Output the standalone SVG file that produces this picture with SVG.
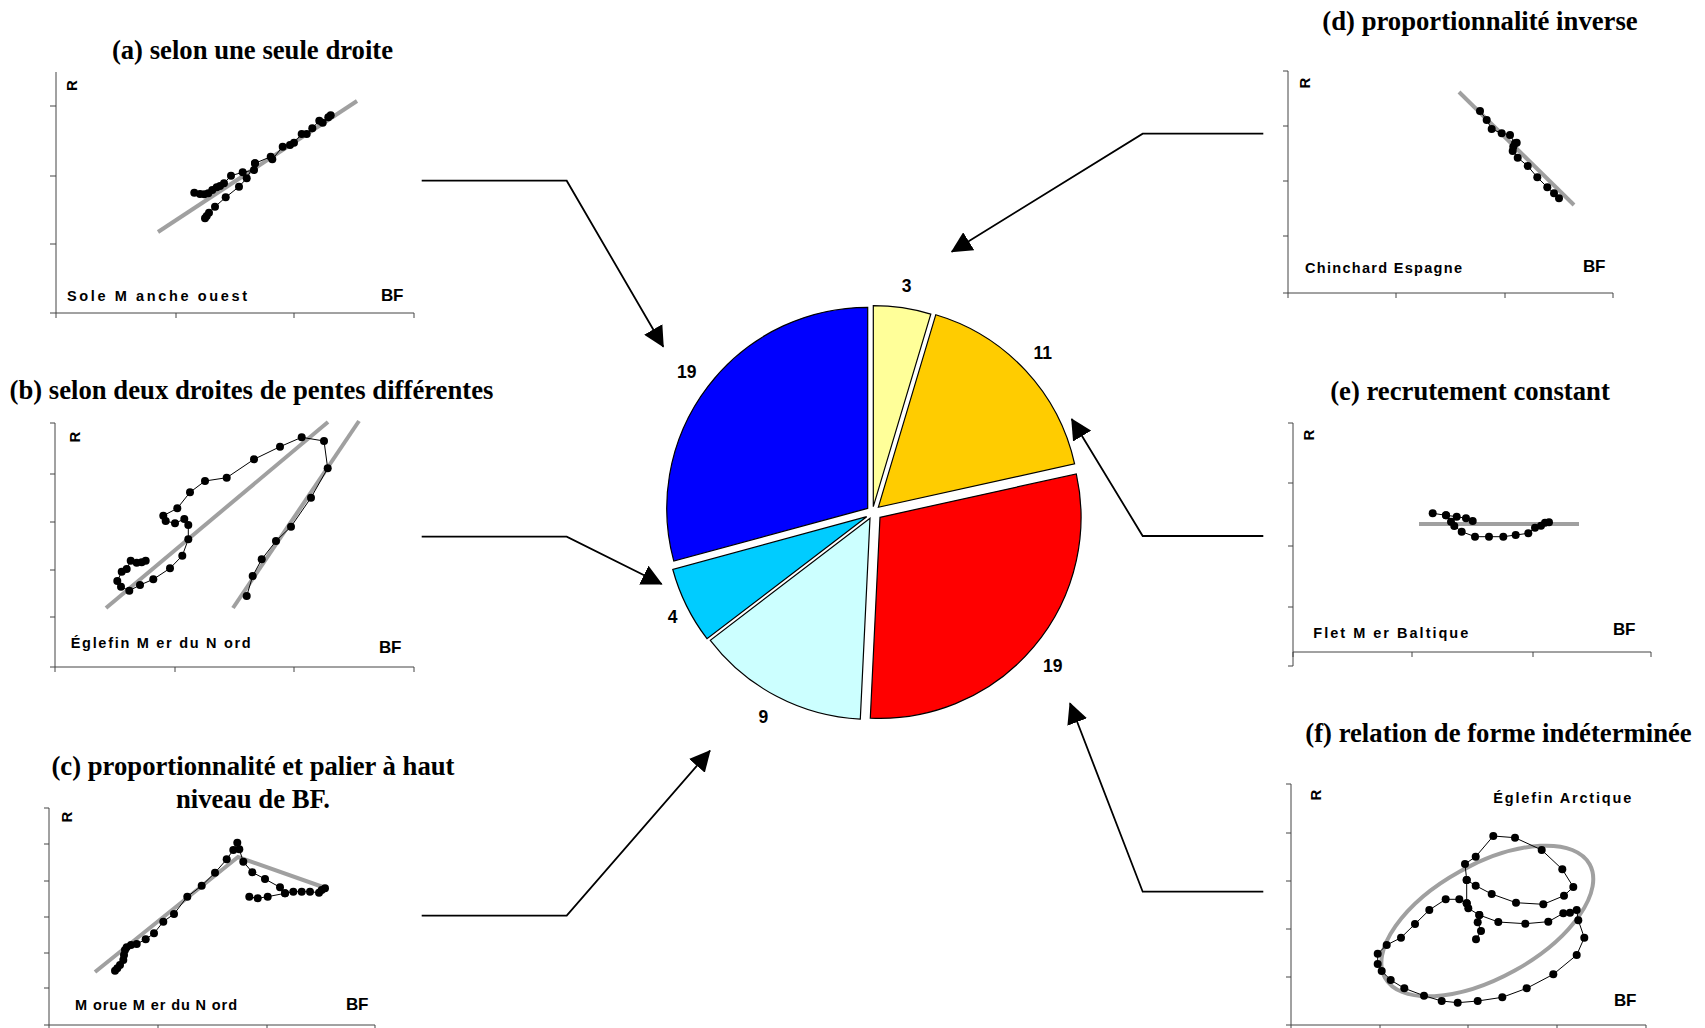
<svg xmlns="http://www.w3.org/2000/svg" width="1705" height="1028" viewBox="0 0 1705 1028">
<style>
.title{font-family:"Liberation Serif","Times New Roman",serif;font-weight:bold;font-size:26.7px;fill:#000;text-anchor:middle}
.ax{fill:none;stroke:#444;stroke-width:1}
.fit{fill:none;stroke:#a0a0a0;stroke-width:4}
.ser{fill:none;stroke:#000;stroke-width:1;stroke-linejoin:round;marker-start:url(#dot);marker-mid:url(#dot);marker-end:url(#dot)}
.lab{font-family:"Liberation Sans",Arial,sans-serif;font-weight:bold;fill:#000}
.r{font-size:15px;text-anchor:middle}
.bf{font-size:17px;letter-spacing:-0.4px}
.sp{font-size:14.5px}
.num{font-family:"Liberation Sans",Arial,sans-serif;font-weight:bold;font-size:17.5px;fill:#000;text-anchor:middle}
.slice{stroke:#000;stroke-width:1.2}
.con{fill:none;stroke:#000;stroke-width:1.8;marker-end:url(#arr)}
</style>
<defs>
<marker id="dot" markerUnits="userSpaceOnUse" markerWidth="10" markerHeight="10" viewBox="-5 -5 10 10" refX="0" refY="0" orient="0"><circle r="4" fill="#000"/></marker>
<marker id="arr" markerUnits="userSpaceOnUse" markerWidth="21" markerHeight="21" viewBox="0 0 21 21" refX="20" refY="10.5" orient="auto"><path d="M0,0 L21,10.5 L0,21 Z" fill="#000"/></marker>
</defs>
<rect width="1705" height="1028" fill="#fff"/>

<!-- Panel (a) -->
<g id="panel-a">
<text class="title" x="252.5" y="59">(a) selon une seule droite</text>
<path class="ax" d="M56,72 V313 H414 M50,106 H56 M50,176 H56 M50,244 H56 M50,313 H56 M56,313 V318 M176,313 V318 M294,313 V318 M414,313 V318"/>
<line class="fit" x1="158" y1="232" x2="357" y2="101"/>
<polyline class="ser" points="194.3,192.7 200,194 204.3,194.3 208.3,193.3 212.3,190 216.7,187.3 220,186 224,183.3 231,175.7 242.7,172.3 254,170 255,163.3 270.7,156.7 272.3,159.3 282.7,146.7 290,145 294,142.7 301.7,134 306.7,134 312.3,128.3 319.3,120.7 322.7,122.7 328.3,117.3 330.7,115.3"/>
<polyline class="ser" points="205,218.3 206.7,216 209,212.7 215,206.7 225.7,197.3 239,186.7 246.7,178.3 255,163.3"/>
<text class="lab r" transform="translate(76.5,85.7) rotate(-90)">R</text>
<text class="lab bf" x="381" y="300.7">BF</text>
<text class="lab sp" x="67" y="300.7" textLength="180" lengthAdjust="spacing">Sole M anche ouest</text>
</g>

<!-- Panel (b) -->
<g id="panel-b">
<text class="title" x="251.5" y="399">(b) selon deux droites de pentes différentes</text>
<path class="ax" d="M55,423 V667 H414 M50,423 H55 M50,474 H55 M50,522 H55 M50,570 H55 M50,617 H55 M50,667 H55 M55,667 V672 M175,667 V672 M294,667 V672 M414,667 V672"/>
<line class="fit" x1="106" y1="608" x2="328" y2="422"/>
<line class="fit" x1="233" y1="608" x2="359" y2="421"/>
<polyline class="ser" points="145.7,560.7 141.7,562.3 136.7,562.7 130.7,560.7 126.7,569 121.7,571.7 117.3,581 121,586.7 129.3,590.7 140,585 153.3,579.3 170,568.3 182.3,555.7 188.3,539.3 188.3,525 184.3,519 175,523.3 165.7,521 163.3,515.7 177.3,508.3 190,492.3 205,481 226.7,477.7 254,459.3 280,446.7 301.7,437.3 324,441 327.7,468.3 311,497.7 291,526.7 276,541 261.7,559.3 252.7,576 246.7,596"/>
<text class="lab r" transform="translate(79.5,437) rotate(-90)">R</text>
<text class="lab bf" x="379" y="652.7">BF</text>
<text class="lab sp" x="70.7" y="648.3" textLength="180" lengthAdjust="spacing">Églefin M er du N ord</text>
</g>

<!-- Panel (c) -->
<g id="panel-c">
<text class="title" x="253" y="775">(c) proportionnalité et palier à haut</text>
<text class="title" x="253" y="808">niveau de BF.</text>
<path class="ax" d="M49,808 V1025 H375 M44,808 H49 M44,844 H49 M44,881 H49 M44,917 H49 M44,953 H49 M44,988 H49 M44,1025 H49 M49,1025 V1030 M158,1025 V1030 M267,1025 V1030 M375,1025 V1030"/>
<polyline class="fit" points="95,972 238,857 323,887"/>
<polyline class="ser" points="115,970.7 117.3,968.3 120,965 123.3,960 124,955 125,950 126.7,947.3 131,945 136.7,944 145.7,939.3 154,933.3 163.3,921.7 174,914 187.3,896.7 201.7,885.7 215,872.7 226.7,859.3 233.3,850 237.3,842.7 239.3,849.3 243.3,861.7 252.3,872.3 265,879 280,887.3 285,893.3 293.3,891.7 301.7,891.7 310,891.7 319,892.7 321.7,890 325,888.3"/>
<polyline class="ser" points="249.3,896.7 257.7,898.3 267.7,896.7 285,893.3"/>
<text class="lab r" transform="translate(72,817) rotate(-90)">R</text>
<text class="lab bf" x="346" y="1010">BF</text>
<text class="lab sp" x="75" y="1010" textLength="162" lengthAdjust="spacing">M orue M er du N ord</text>
</g>

<!-- Panel (d) -->
<g id="panel-d">
<text class="title" x="1480" y="30">(d) proportionnalité inverse</text>
<path class="ax" d="M1288,71 V293 H1613 M1283,71 H1288 M1283,126 H1288 M1283,181 H1288 M1283,236 H1288 M1283,293 H1288 M1288,293 V298 M1396,293 V298 M1505,293 V298 M1613,293 V298"/>
<line class="fit" x1="1459" y1="92" x2="1574" y2="205"/>
<polyline class="ser" points="1480,111 1486.7,120 1491.7,129 1501.7,133.3 1510,135 1515,143.3 1516.7,142.7 1513.3,146.7 1512.7,151 1517.7,157.7 1527.7,166 1537.3,177.3 1547.3,187.3 1554,193.3 1559,198.3"/>
<text class="lab r" transform="translate(1309.5,83) rotate(-90)">R</text>
<text class="lab bf" x="1583" y="271.7">BF</text>
<text class="lab sp" x="1305" y="273.3" textLength="157" lengthAdjust="spacing">Chinchard Espagne</text>
</g>

<!-- Panel (e) -->
<g id="panel-e">
<text class="title" x="1470" y="400">(e) recrutement constant</text>
<path class="ax" d="M1293,423 V666 M1293,652 H1651 M1288,423 H1293 M1288,483 H1293 M1288,546 H1293 M1288,607 H1293 M1288,666 H1293 M1293,652 V657 M1412,652 V657 M1533,652 V657 M1651,652 V657"/>
<line class="fit" x1="1419" y1="524" x2="1579" y2="524"/>
<polyline class="ser" points="1432.7,513.3 1446,515.3 1451,521.7 1454.3,526 1461.7,531.7 1475,536.7 1489,536.7 1503.3,536.7 1515.7,535 1528.3,533.3 1535,527.7 1541,525.7 1545,522.7 1549,522.3"/>
<polyline class="ser" points="1446,515.3 1456.7,516.7 1466,518.3 1472.7,521"/>
<text class="lab r" transform="translate(1314,435) rotate(-90)">R</text>
<text class="lab bf" x="1613" y="635">BF</text>
<text class="lab sp" x="1313.3" y="638.3" textLength="155" lengthAdjust="spacing">Flet M er Baltique</text>
</g>

<!-- Panel (f) -->
<g id="panel-f">
<text class="title" x="1498.5" y="741.7">(f) relation de forme indéterminée</text>
<path class="ax" d="M1291,784 V1025 H1646 M1286,784 H1291 M1286,833 H1291 M1286,881 H1291 M1286,929 H1291 M1286,977 H1291 M1286,1025 H1291 M1291,1025 V1030 M1380,1025 V1030 M1468,1025 V1030 M1557,1025 V1030 M1646,1025 V1030"/>
<ellipse class="fit" cx="1487.3" cy="921" rx="117" ry="56.7" transform="rotate(-29 1487.3 921)"/>
<polyline class="ser" points="1476,939.3 1481,931 1477.7,922.3 1479.3,915 1468.3,908.3 1466.7,903.3 1459.3,899.3 1445.7,899.3 1429.3,910 1415,924 1401,937.7 1386.7,945 1377.7,953.7 1377.7,964 1381.7,971 1390.7,980 1404.3,988.3 1424,995.7 1441.7,1001 1457.7,1002.7 1477.7,1001 1502.3,997.3 1526.7,988.3 1553.3,974.3 1576.7,955 1584.3,937.7 1578.3,920.3 1576.7,910 1570,912.7 1563.3,913.3 1548.3,921.7 1525.3,923.7 1498.3,922 1479.3,915"/>
<polyline class="ser" points="1466.7,903.3 1466.7,880 1465,864 1475.7,856.7 1493.3,836 1515,837.7 1541.7,850 1562.3,869.3 1573.3,887 1564,895.7 1543.3,904.3 1516,902.7 1491.7,894 1475.7,885.7 1466.7,880"/>
<text class="lab r" transform="translate(1321,795) rotate(-90)">R</text>
<text class="lab bf" x="1614" y="1006">BF</text>
<text class="lab sp" x="1493.3" y="803.3" textLength="138" lengthAdjust="spacing">Églefin Arctique</text>
</g>

<!-- Pie chart -->
<g id="pie">
<path id="slice-3" class="slice" fill="#ffff99" d="M873.3,506.7 L873.3,305.7 A201,201 0 0,1 930.8,314.1 Z"/>
<path id="slice-11" class="slice" fill="#ffcc00" d="M878.3,507.3 L935.8,314.7 A201,201 0 0,1 1074.6,463.9 Z"/>
<path id="slice-19r" class="slice" fill="#ff0000" d="M880,517.3 L1076.3,473.9 A201,201 0 0,1 870.3,718.1 Z"/>
<path id="slice-9" class="slice" fill="#ccffff" d="M870,518.3 L860.3,719.1 A201,201 0 0,1 710.3,640.3 Z"/>
<path id="slice-4" class="slice" fill="#00ccff" d="M866.7,516.7 L707,638.7 A201,201 0 0,1 672.8,569.5 Z"/>
<path id="slice-19b" class="slice" fill="#0000ff" d="M867.7,508.3 L673.8,561.1 A201,201 0 0,1 867.7,307.3 Z"/>
<text class="num" x="906.7" y="292">3</text>
<text class="num" x="1042.7" y="359">11</text>
<text class="num" x="1052.7" y="672">19</text>
<text class="num" x="763.3" y="723">9</text>
<text class="num" x="672.7" y="623">4</text>
<text class="num" x="686.7" y="378">19</text>
</g>

<!-- Connectors -->
<g id="connectors">
<path class="con" d="M421.7,180.7 H566.7 L663.3,346.7"/>
<path class="con" d="M421.7,536.7 H566.7 L661.7,584"/>
<path class="con" d="M421.7,915.7 H566.7 L710,750.7"/>
<path class="con" d="M1263.3,133.7 H1142.7 L951.7,251.7"/>
<path class="con" d="M1263.3,536 H1142.7 L1071.7,419"/>
<path class="con" d="M1263.3,891.7 H1142.7 L1070,703.3"/>
</g>
</svg>
